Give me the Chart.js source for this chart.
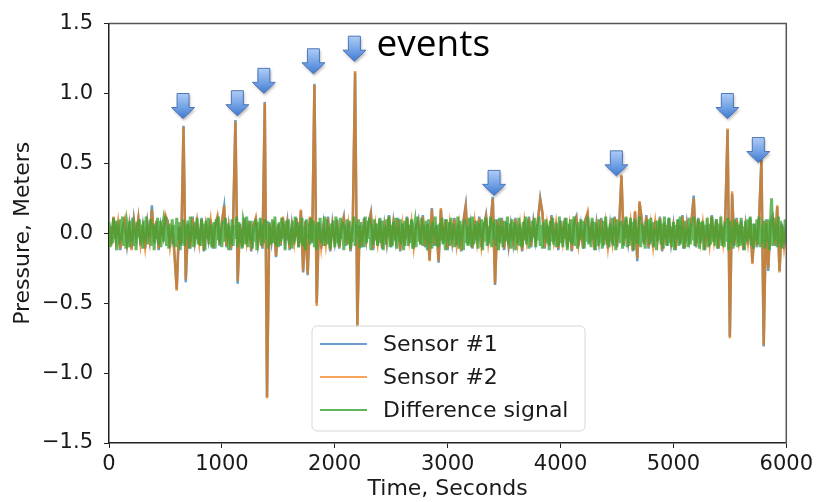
<!DOCTYPE html>
<html>
<head>
<meta charset="utf-8">
<script src="https://cdn.jsdelivr.net/npm/chart.js@4.4.1/dist/chart.umd.min.js"></script>
<style>
  html, body { margin: 0; padding: 0; background: #fff; }
  #wrap { width: 817px; height: 502px; }
</style>
</head>
<body>
<div id="wrap"><canvas id="chart" width="817" height="502"></canvas></div>
<script>
// Pressure records from two sensors (every 20 s) and their difference signal (every 10 s)
const SENSOR_STEP = 20;
const DIFF_STEP = 10;

const sensor1 = [
  0.07, -0.08, 0.11, -0.05, 0.09, -0.12, 0.04, 0.09, -0.08, 0.06, -0.11, 0.10, -0.03, 0.10, -0.09, 0.05, -0.11, 0.08, -0.04, 0.20,
  -0.07, 0.08, -0.12, 0.06, -0.02, 0.12, 0.09, -0.10, 0.05, -0.15, -0.40, 0.05, -0.09, 0.77, -0.35, 0.06, -0.11, 0.12, -0.06, 0.07,
  -0.08, 0.11, -0.13, 0.05, -0.05, 0.10, -0.11, 0.06, 0.11, -0.09, 0.08, 0.19, -0.10, 0.05, -0.12, 0.09, 0.81, -0.36, 0.07, -0.10,
  0.11, -0.07, 0.09, -0.13, 0.06, 0.10, -0.08, 0.04, -0.11, 0.94, -1.17, 0.08, -0.06, 0.08, -0.17, 0.07, -0.09, 0.11, -0.05, 0.08,
  -0.12, 0.06, -0.08, 0.11, -0.10, 0.16, -0.28, 0.09, -0.30, 0.11, -0.07, 1.07, -0.50, 0.08, -0.11, 0.06, -0.09, 0.12, -0.13, 0.07,
  -0.06, 0.10, -0.11, 0.05, 0.12, -0.09, 0.07, -0.13, 0.09, 1.15, -0.66, 0.06, -0.10, 0.11, -0.05, 0.08, 0.15, -0.12, 0.07, -0.08,
  0.10, -0.11, 0.06, -0.07, 0.13, -0.10, 0.08, -0.05, 0.11, -0.13, 0.07, -0.09, 0.12, -0.06, 0.09, -0.11, 0.05, 0.10, -0.08, 0.13,
  -0.10, 0.07, -0.19, 0.18, -0.09, 0.06, -0.21, 0.17, -0.07, 0.10, -0.12, 0.08, -0.06, 0.11, -0.09, 0.07, -0.13, 0.09, 0.20, -0.08,
  0.06, -0.11, 0.09, -0.07, 0.12, -0.10, 0.05, 0.13, -0.08, 0.07, 0.26, -0.37, 0.10, -0.06, 0.11, -0.12, 0.08, -0.09, 0.06, -0.07,
  0.11, -0.08, 0.07, -0.13, 0.09, -0.06, 0.12, -0.10, 0.08, -0.05, 0.10, 0.25, 0.14, -0.11, 0.07, -0.09, 0.13, -0.06, 0.08, -0.12,
  0.09, -0.07, 0.11, -0.10, 0.06, -0.13, 0.08, 0.12, -0.09, 0.05, -0.11, 0.10, 0.14, -0.07, 0.09, -0.12, 0.07, -0.06, 0.11, -0.09,
  0.08, -0.11, 0.06, -0.08, 0.12, -0.10, 0.07, 0.41, -0.09, 0.11, -0.06, 0.09, -0.13, 0.15, -0.20, 0.22, 0.10, -0.08, 0.13, -0.11,
  0.07, -0.10, 0.09, -0.06, 0.12, -0.13, 0.08, -0.09, 0.11, -0.07, 0.06, -0.12, 0.10, -0.08, 0.13, -0.11, 0.07, -0.05, 0.09, 0.27,
  -0.10, 0.11, -0.07, 0.08, -0.12, 0.06, -0.09, 0.13, -0.06, 0.10, -0.11, 0.07, -0.08, 0.12, 0.74, -0.74, 0.28, -0.09, 0.11, -0.07,
  0.09, -0.12, 0.06, -0.08, 0.11, -0.21, 0.07, -0.10, 0.13, 0.53, -0.81, 0.10, -0.27, 0.08, 0.12, -0.09, 0.19, -0.27, 0.07, -0.11,
  0.06
];

const sensor2 = [
  0.06, -0.09, 0.12, -0.04, 0.08, -0.11, 0.03, 0.10, -0.07, 0.05, -0.12, 0.09, -0.02, 0.11, -0.08, 0.04, -0.10, 0.07, -0.05, 0.17,
  -0.06, 0.09, -0.11, 0.05, -0.03, 0.13, 0.08, -0.09, 0.06, -0.14, -0.41, 0.04, -0.08, 0.76, -0.33, 0.07, -0.10, 0.11, -0.05, 0.08,
  -0.07, 0.10, -0.12, 0.06, -0.04, 0.09, -0.10, 0.05, 0.12, -0.08, 0.07, 0.20, -0.09, 0.04, -0.11, 0.08, 0.80, -0.34, 0.06, -0.09,
  0.10, -0.06, 0.08, -0.12, 0.05, 0.11, -0.07, 0.03, -0.10, 0.93, -1.18, 0.07, -0.05, 0.09, -0.16, 0.06, -0.08, 0.12, -0.04, 0.07,
  -0.11, 0.05, -0.07, 0.10, -0.09, 0.17, -0.27, 0.08, -0.29, 0.12, -0.06, 1.06, -0.52, 0.07, -0.10, 0.05, -0.08, 0.11, -0.12, 0.06,
  -0.05, 0.09, -0.10, 0.04, 0.11, -0.08, 0.06, -0.12, 0.08, 1.16, -0.67, 0.05, -0.09, 0.10, -0.04, 0.07, 0.14, -0.11, 0.06, -0.07,
  0.09, -0.10, 0.05, -0.06, 0.12, -0.09, 0.07, -0.04, 0.10, -0.12, 0.06, -0.08, 0.11, -0.05, 0.08, -0.10, 0.04, 0.09, -0.07, 0.12,
  -0.09, 0.06, -0.20, 0.17, -0.08, 0.05, -0.20, 0.18, -0.06, 0.09, -0.11, 0.07, -0.05, 0.10, -0.08, 0.06, -0.12, 0.08, 0.19, -0.07,
  0.05, -0.10, 0.08, -0.06, 0.11, -0.09, 0.04, 0.12, -0.07, 0.06, 0.25, -0.36, 0.09, -0.05, 0.10, -0.11, 0.07, -0.08, 0.05, -0.06,
  0.10, -0.07, 0.06, -0.12, 0.08, -0.05, 0.11, -0.09, 0.07, -0.04, 0.09, 0.24, 0.15, -0.10, 0.06, -0.08, 0.12, -0.05, 0.07, -0.11,
  0.08, -0.06, 0.10, -0.09, 0.05, -0.12, 0.07, 0.11, -0.08, 0.04, -0.10, 0.09, 0.15, -0.06, 0.08, -0.11, 0.06, -0.05, 0.10, -0.08,
  0.07, -0.10, 0.05, -0.07, 0.11, -0.09, 0.06, 0.42, -0.08, 0.10, -0.05, 0.08, -0.12, 0.16, -0.18, 0.23, 0.09, -0.07, 0.12, -0.10,
  0.06, -0.09, 0.08, -0.05, 0.11, -0.12, 0.07, -0.08, 0.10, -0.06, 0.05, -0.11, 0.09, -0.07, 0.12, -0.10, 0.06, -0.04, 0.08, 0.25,
  -0.09, 0.10, -0.06, 0.07, -0.11, 0.05, -0.08, 0.12, -0.05, 0.09, -0.10, 0.06, -0.07, 0.11, 0.75, -0.75, 0.30, -0.08, 0.10, -0.06,
  0.08, -0.11, 0.05, -0.07, 0.10, -0.22, 0.06, -0.09, 0.12, 0.52, -0.80, 0.09, -0.25, 0.07, 0.11, -0.08, 0.20, -0.28, 0.06, -0.10,
  0.05
];

const difference = [
  0.08, -0.10, 0.05, -0.07, 0.11, -0.04, 0.09, -0.12, 0.06, -0.08, 0.10, -0.05, 0.12, -0.09, 0.03, -0.11, 0.07, 0.02, -0.10, 0.09,
  -0.06, 0.11, -0.09, 0.04, -0.12, 0.08, -0.03, 0.10, -0.07, 0.06, -0.11, 0.09, -0.05, 0.12, -0.08, 0.05, -0.02, 0.10, -0.09, 0.07,
  -0.12, 0.06, -0.04, 0.11, -0.08, 0.09, -0.10, 0.03, 0.08, -0.06, 0.12, -0.09, 0.05, -0.11, 0.07, -0.03, 0.10, -0.08, 0.06, -0.10,
  0.11, -0.05, 0.08, -0.12, 0.04, -0.07, 0.10, -0.09, 0.06, -0.02, 0.09, -0.11, 0.12, -0.06, 0.05, -0.10, 0.08, -0.04, 0.11, -0.08,
  0.03, -0.09, 0.10, -0.06, 0.07, -0.12, 0.09, -0.04, 0.11, -0.08, 0.06, -0.10, 0.02, 0.08, -0.11, 0.10, -0.05, 0.12, -0.07, 0.04,
  -0.10, 0.09, -0.06, 0.11, -0.03, 0.07, -0.12, 0.05, -0.08, 0.10, -0.09, 0.06, -0.04, 0.12, -0.10, 0.08, -0.07, 0.03, -0.11, 0.09,
  0.05, -0.08, 0.12, -0.10, 0.07, -0.05, 0.09, -0.11, 0.04, -0.06, 0.10, -0.12, 0.08, -0.03, 0.11, -0.09, 0.06, -0.07, 0.10, -0.04,
  0.09, -0.11, 0.06, -0.08, 0.03, 0.10, -0.07, 0.12, -0.09, 0.05, -0.10, 0.08, -0.06, 0.11, -0.04, 0.07, -0.12, 0.09, -0.05, 0.10,
  -0.08, 0.04, -0.11, 0.09, -0.06, 0.12, -0.03, 0.08, -0.10, 0.06, -0.07, 0.11, -0.09, 0.05, -0.12, 0.10, -0.04, 0.07, -0.08, 0.11,
  -0.05, 0.09, -0.10, 0.06, -0.12, 0.08, -0.04, 0.11, -0.07, 0.03, -0.09, 0.12, -0.06, 0.10, -0.08, 0.05, -0.11, 0.07, -0.03, 0.09,
  -0.10, 0.12, -0.07, 0.05, -0.09, 0.11, -0.04, 0.08, -0.12, 0.06, -0.05, 0.10, -0.08, 0.09, -0.11, 0.04, -0.06, 0.12, -0.09, 0.07,
  -0.03, 0.10, -0.11, 0.08, -0.06, 0.05, -0.10, 0.12, -0.07, 0.09, -0.04, 0.11, -0.12, 0.06, -0.08, 0.10, -0.05, 0.07, -0.09, 0.04,
  0.11, -0.07, 0.09, -0.12, 0.05, -0.08, 0.10, -0.03, 0.12, -0.10, 0.06, -0.09, 0.08, -0.05, 0.11, -0.11, 0.04, -0.06, 0.10, -0.08,
  0.07, -0.12, 0.09, -0.04, 0.11, -0.09, 0.06, -0.07, 0.10, -0.11, 0.03, 0.08, -0.10, 0.12, -0.06, 0.05, -0.08, 0.11, -0.09, 0.06,
  -0.04, 0.09, -0.12, 0.10, -0.07, 0.05, -0.11, 0.08, -0.03, 0.12, -0.09, 0.06, -0.10, 0.07, -0.05, 0.11, -0.08, 0.04, -0.12, 0.10,
  -0.06, 0.08, -0.09, 0.11, -0.05, 0.07, -0.10, 0.03, -0.08, 0.12, -0.11, 0.09, -0.04, 0.06, -0.12, 0.10, -0.07, 0.05, -0.09, 0.11,
  0.04, -0.10, 0.12, -0.08, 0.06, -0.05, 0.09, -0.11, 0.07, -0.03, 0.10, -0.12, 0.08, -0.06, 0.11, -0.09, 0.05, -0.07, 0.12, -0.10,
  0.08, -0.04, 0.10, -0.09, 0.06, -0.12, 0.11, -0.07, 0.05, -0.10, 0.09, -0.06, 0.03, 0.12, -0.08, 0.07, -0.11, 0.10, -0.05, 0.08,
  -0.12, 0.06, -0.07, 0.11, -0.09, 0.04, -0.10, 0.08, -0.05, 0.12, -0.08, 0.10, -0.11, 0.05, -0.06, 0.09, -0.03, 0.11, -0.10, 0.07,
  -0.05, 0.12, -0.09, 0.06, -0.11, 0.08, -0.04, 0.10, -0.07, 0.05, -0.12, 0.09, -0.06, 0.11, -0.08, 0.03, -0.10, 0.07, -0.09, 0.12,
  -0.07, 0.05, -0.10, 0.09, -0.04, 0.11, -0.12, 0.07, -0.06, 0.10, -0.08, 0.04, 0.12, -0.09, 0.06, -0.11, 0.08, -0.05, 0.10, -0.03,
  0.09, -0.11, 0.07, -0.06, 0.12, -0.08, 0.05, -0.10, 0.11, -0.04, 0.08, -0.12, 0.06, -0.09, 0.10, -0.07, 0.03, -0.11, 0.09, -0.05,
  0.12, -0.08, 0.04, -0.10, 0.07, -0.06, 0.11, -0.09, 0.05, -0.12, 0.10, -0.03, 0.08, -0.07, 0.09, -0.11, 0.06, -0.04, 0.12, -0.10,
  0.06, -0.09, 0.11, -0.05, 0.08, -0.12, 0.10, -0.07, 0.04, -0.08, 0.12, -0.10, 0.07, -0.06, 0.05, -0.11, 0.09, -0.03, 0.10, -0.08,
  0.11, -0.06, 0.08, -0.10, 0.03, -0.12, 0.09, -0.05, 0.10, -0.08, 0.07, -0.11, 0.12, -0.04, 0.06, -0.09, 0.11, -0.07, 0.05, -0.10,
  0.08, -0.12, 0.06, -0.04, 0.10, -0.09, 0.12, -0.07, 0.05, -0.11, 0.09, -0.06, 0.03, -0.10, 0.11, -0.08, 0.07, -0.05, 0.12, -0.09,
  0.04, -0.07, 0.10, -0.11, 0.08, -0.05, 0.09, -0.12, 0.06, -0.03, 0.11, -0.10, 0.07, -0.08, 0.12, -0.06, 0.05, -0.09, 0.10, -0.11,
  0.07, -0.04, 0.12, -0.09, 0.05, -0.10, 0.08, -0.06, 0.11, -0.12, 0.09, -0.07, 0.04, -0.11, 0.10, -0.05, 0.08, -0.10, 0.06, -0.09,
  0.11, -0.08, 0.05, -0.12, 0.09, -0.06, 0.10, -0.04, 0.12, -0.09, 0.07, -0.11, 0.06, -0.05, 0.10, -0.08, 0.12, -0.10, 0.04, -0.07,
  0.09, -0.11, 0.07, -0.06, 0.10, -0.12, 0.08, 0.25, -0.09, 0.11, -0.05, 0.06, -0.10, 0.12, -0.07, 0.09, -0.11, 0.05, -0.08, 0.10,
  -0.06
];

// Event markers: time (s) and the pressure level at the top of each arrow
const eventTimes = [656, 1137, 1372, 1811, 2174, 3411, 4495, 5478, 5752];
const eventArrowTops = [1.00, 1.02, 1.18, 1.32, 1.41, 0.45, 0.59, 1.00, 0.685];
const eventsLabel = 'events';
const eventsLabelAt = { t: 2370, v: 1.27 };

const seriesNames = ['Sensor #1', 'Sensor #2', 'Difference signal'];
const seriesSteps = [SENSOR_STEP, SENSOR_STEP, DIFF_STEP];
const seriesColors = ['rgba(31,119,180,0.7)', 'rgba(230,120,20,0.75)', 'rgba(60,165,50,0.78)'];
const seriesWidths = [2.5, 2.5, 3];
const legendColors = ['#6c9fcf', '#f7a35c', '#5fb55f'];

const FONT = "'DejaVu Sans', sans-serif";

function toPoints(values, step) {
  return values.map((v, i) => ({ x: i * step, y: v }));
}

function drawArrow(ctx, cx, top) {
  const w = 23, h = 25, shaftW = 12, shaftH = 14;
  ctx.save();
  const grad = ctx.createLinearGradient(0, top, 0, top + h);
  grad.addColorStop(0, '#aecbf5');
  grad.addColorStop(0.5, '#79a6e8');
  grad.addColorStop(1, '#3f7bd2');
  ctx.shadowColor = 'rgba(0,0,0,0.3)';
  ctx.shadowBlur = 3;
  ctx.shadowOffsetX = 1;
  ctx.shadowOffsetY = 2;
  ctx.beginPath();
  ctx.moveTo(cx - shaftW / 2, top);
  ctx.lineTo(cx + shaftW / 2, top);
  ctx.lineTo(cx + shaftW / 2, top + shaftH);
  ctx.lineTo(cx + w / 2, top + shaftH);
  ctx.lineTo(cx, top + h);
  ctx.lineTo(cx - w / 2, top + shaftH);
  ctx.lineTo(cx - shaftW / 2, top + shaftH);
  ctx.closePath();
  ctx.fillStyle = grad;
  ctx.fill();
  ctx.shadowColor = 'transparent';
  ctx.strokeStyle = 'rgba(65,110,175,0.9)';
  ctx.lineWidth = 1;
  ctx.stroke();
  ctx.restore();
}

const decorations = {
  id: 'decorations',
  afterDatasetsDraw(chart) {
    const { ctx, chartArea: a, scales: { x, y } } = chart;

    // top and right spines
    ctx.save();
    ctx.lineWidth = 1.5;
    ctx.strokeStyle = '#555';
    ctx.beginPath();
    ctx.moveTo(a.left, a.top);
    ctx.lineTo(a.right, a.top);
    ctx.lineTo(a.right, a.bottom);
    ctx.stroke();
    ctx.restore();

    // event arrows
    eventTimes.forEach((t, i) => {
      drawArrow(ctx, x.getPixelForValue(t), y.getPixelForValue(eventArrowTops[i]));
    });

    ctx.save();
    ctx.font = "37px 'Open Sans', sans-serif";
    ctx.fillStyle = '#000';
    ctx.textBaseline = 'alphabetic';
    ctx.fillText(eventsLabel, x.getPixelForValue(eventsLabelAt.t), y.getPixelForValue(eventsLabelAt.v));
    ctx.restore();

    // legend box
    const lx = 312, ly = 326, lw = 273, lh = 105, r = 5;
    ctx.save();
    ctx.beginPath();
    ctx.moveTo(lx + r, ly);
    ctx.arcTo(lx + lw, ly, lx + lw, ly + lh, r);
    ctx.arcTo(lx + lw, ly + lh, lx, ly + lh, r);
    ctx.arcTo(lx, ly + lh, lx, ly, r);
    ctx.arcTo(lx, ly, lx + lw, ly, r);
    ctx.closePath();
    ctx.fillStyle = 'rgba(255,255,255,0.85)';
    ctx.fill();
    ctx.strokeStyle = '#d6d6d6';
    ctx.lineWidth = 1;
    ctx.stroke();
    ctx.font = '22px ' + FONT;
    ctx.textBaseline = 'middle';
    ctx.fillStyle = '#1a1a1a';
    seriesNames.forEach((name, i) => {
      const rowY = 344 + i * 33;
      ctx.strokeStyle = legendColors[i];
      ctx.lineWidth = 2;
      ctx.beginPath();
      ctx.moveTo(320, rowY);
      ctx.lineTo(367, rowY);
      ctx.stroke();
      ctx.fillText(name, 383, rowY + 1);
    });
    ctx.restore();
  }
};

new Chart(document.getElementById('chart'), {
  type: 'line',
  data: {
    datasets: [sensor1, sensor2, difference].map((vals, i) => ({
      label: seriesNames[i],
      data: toPoints(vals, seriesSteps[i]),
      borderColor: seriesColors[i],
      borderWidth: seriesWidths[i],
      pointRadius: 0,
      tension: 0,
      fill: false,
      order: 2 - i
    }))
  },
  options: {
    responsive: false,
    animation: false,
    devicePixelRatio: 1,
    layout: { padding: { left: 0, right: 29, top: 20, bottom: 0 } },
    plugins: { legend: { display: false }, tooltip: { enabled: false } },
    scales: {
      x: {
        type: 'linear',
        min: 0,
        max: 6000,
        ticks: {
          stepSize: 1000,
          color: '#1a1a1a',
          font: { family: FONT, size: 21 },
          padding: 4,
          maxRotation: 0,
          callback: v => String(v)
        },
        grid: { drawOnChartArea: false, drawTicks: true, tickLength: 5, color: '#222' },
        border: { color: '#222', width: 1.5 },
        title: { display: true, text: 'Time, Seconds', color: '#1a1a1a', font: { family: FONT, size: 22 }, padding: { top: 0, bottom: 0 } },
        afterFit(scale) { scale.height = 59; }
      },
      y: {
        min: -1.5,
        max: 1.5,
        ticks: {
          stepSize: 0.5,
          color: '#1a1a1a',
          font: { family: FONT, size: 21 },
          padding: 11,
          callback: v => (v < 0 ? '\u2212' : '') + Math.abs(v).toFixed(1)
        },
        grid: { drawOnChartArea: false, drawTicks: true, tickLength: 5, color: '#222' },
        border: { color: '#222', width: 1.5 },
        title: { display: true, text: 'Pressure, Meters', color: '#1a1a1a', font: { family: FONT, size: 22 }, padding: { top: 10, bottom: 0 } },
        afterFit(scale) { scale.width = 109; }
      }
    }
  },
  plugins: [decorations]
});
</script>
</body>
</html>
